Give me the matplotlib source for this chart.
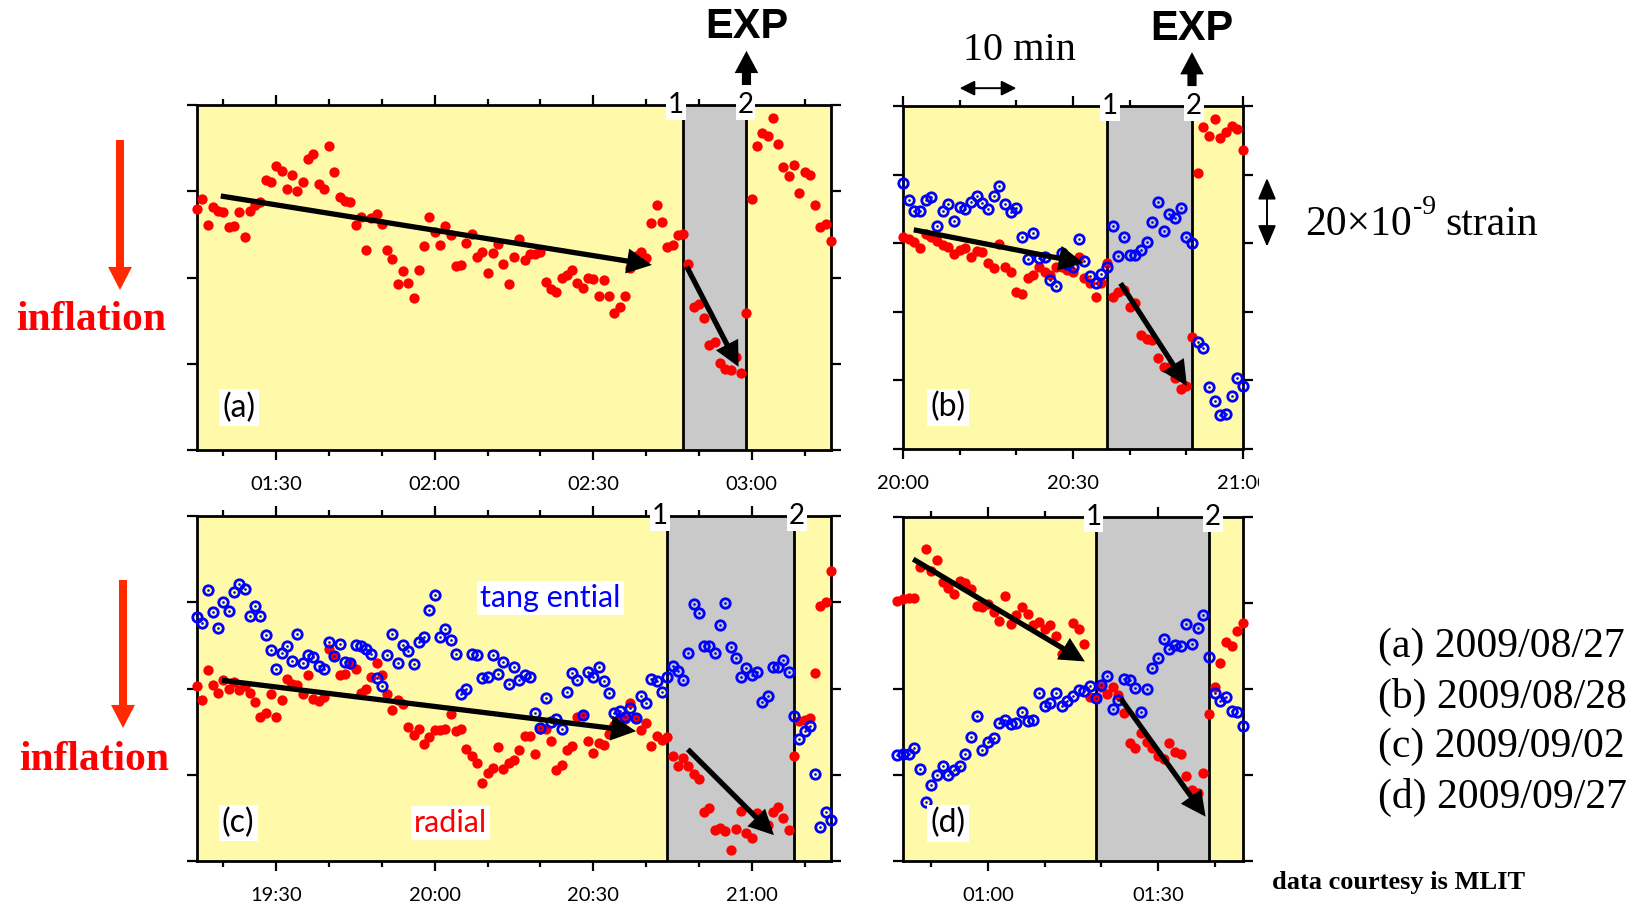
import numpy as np
import matplotlib
matplotlib.use("Agg")
import matplotlib.pyplot as plt
import matplotlib.transforms as mtransforms
from matplotlib.patches import FancyArrowPatch
from matplotlib.ticker import MultipleLocator, FuncFormatter

# ---------------------------------------------------------------------------
# Strain records (values in 1e-9 strain, one sample per minute)
# ---------------------------------------------------------------------------
SAMPLE_MINUTES = 1.0

# (a) 2009/08/27 -- radial component only
A_START = "01:15"
A_RADIAL = [55.9, 58.2, 52.2, 56.4, 55.5, 55.1, 51.6, 52.0, 55.1, 49.3,
            55.5, 56.8, 57.4, 62.6, 62.2, 65.9, 64.7, 60.5, 63.8, 60.1,
            62.2, 67.4, 68.6, 61.7, 60.5, 70.5, 64.4, 58.6, 57.8, 57.4,
            52.2, 54.1, 46.4, 53.9, 54.7, 52.3, 46.4, 44.3, 38.4, 41.5,
            38.8, 35.3, 41.7, 47.3, 54.0, 50.6, 47.5, 51.9, 49.9, 42.7,
            42.9, 47.9, 50.2, 44.7, 45.8, 41.1, 45.6, 47.8, 43.1, 38.4,
            44.7, 48.9, 44.1, 45.4, 45.5, 45.8, 39.0, 37.3, 36.7, 40.0,
            40.6, 41.7, 38.8, 37.6, 40.0, 39.6, 35.8, 39.4, 35.7, 31.7,
            33.1, 35.6, 42.3, 45.1, 46.0, 44.6, 52.6, 56.7, 52.9, 47.1,
            47.5, 49.8, 50.2, 43.1, 33.2, 33.9, 30.7, 24.3, 25.1, 20.1,
            18.7, 18.6, 21.6, 17.8, 31.7, 58.1, 70.6, 73.4, 72.8, 76.9,
            70.9, 65.7, 63.6, 66.2, 59.7, 64.5, 63.8, 56.7, 51.6, 52.4,
            48.5]
A_TANGENTIAL = []

# (b) 2009/08/28
B_START = "20:00"
B_RADIAL = [61.9, 61.2, 60.3, 58.5, 62.6, 61.7, 60.5, 59.5, 58.8, 56.8,
            58.1, 58.5, 56.1, 57.8, 57.4, 54.2, 52.7, 59.8, 53.2, 51.7,
            45.9, 45.2, 49.8, 50.8, 53.2, 51.7, 50.8, 53.2, 53.2, 52.2,
            51.7, 56.1, 50.0, 48.3, 44.2, 48.3, 54.2, 44.2, 45.9, 46.4,
            41.3, 42.5, 33.3, 32.1, 31.8, 26.5, 23.8, 23.8, 20.7, 17.5,
            18.4, 32.6, 80.6, 93.8, 91.3, 96.1, 90.6, 92.5, 94.2, 93.3,
            87.2]
B_TANGENTIAL = [77.5, 72.6, 69.5, 69.5, 72.6, 73.6, 64.9, 69.4, 71.4, 66.5,
                70.5, 69.9, 71.9, 73.9, 71.7, 70.0, 73.9, 76.8, 71.5, 69.2,
                70.4, 61.9, 55.4, 62.9, 55.8, 56.1, 49.3, 47.4, 57.1, 53.9,
                53.2, 61.3, 54.9, 50.3, 48.5, 51.1, 53.2, 64.9, 56.4, 61.7,
                56.6, 56.6, 57.9, 60.3, 66.3, 72.1, 63.6, 68.4, 67.3, 70.2,
                61.7, 60.2, 31.2, 29.4, 18.0, 14.1, 9.8, 10.2, 15.5, 20.7,
                18.3]

# (c) 2009/09/02
C_START = "19:15"
C_RADIAL = [40.5, 37.4, 44.4, 40.7, 39.0, 41.9, 39.8, 41.5, 39.6, 40.5,
            39.0, 36.9, 33.4, 34.4, 38.8, 33.5, 37.3, 42.3, 41.0, 40.7,
            38.8, 43.1, 37.6, 37.0, 38.0, 49.2, 47.5, 43.1, 43.3, 45.6,
            44.6, 39.0, 40.0, 42.7, 46.0, 43.1, 38.8, 35.1, 37.3, 36.3,
            31.1, 29.3, 30.5, 27.1, 28.8, 30.3, 30.3, 30.5, 34.0, 30.1,
            30.7, 25.9, 24.3, 22.7, 18.2, 20.3, 21.6, 26.4, 21.4, 22.8,
            23.5, 25.8, 28.9, 29.0, 24.9, 30.5, 30.5, 27.8, 21.0, 22.2,
            25.7, 26.6, 33.5, 33.8, 27.8, 25.1, 27.4, 27.0, 29.5, 31.5,
            33.5, 32.9, 36.6, 33.2, 30.3, 32.0, 26.7, 29.1, 28.1, 28.7,
            24.4, 22.0, 24.0, 22.0, 20.1, 18.9, 11.3, 12.2, 7.3, 7.6,
            7.0, 2.6, 7.4, 11.7, 6.4, 5.4, 11.1, 9.5, 8.3, 11.3,
            12.6, 9.9, 7.3, 24.4, 32.5, 32.7, 33.1, 43.7, 59.2, 60.0,
            67.3]
C_TANGENTIAL = [56.6, 55.2, 62.8, 57.7, 54.0, 60.1, 57.9, 62.4, 64.3, 63.0,
                56.8, 59.1, 56.7, 52.3, 48.9, 44.6, 48.2, 49.9, 46.4, 52.7,
                45.8, 47.7, 47.2, 45.2, 44.6, 50.8, 47.5, 50.4, 46.1, 45.8,
                50.2, 49.9, 49.1, 48.1, 42.4, 40.5, 47.7, 52.7, 46.0, 50.0,
                48.6, 45.6, 50.8, 51.9, 58.3, 61.6, 51.9, 53.7, 51.2, 48.1,
                38.8, 40.0, 47.9, 47.8, 42.5, 42.7, 47.7, 43.3, 46.1, 41.1,
                45.0, 41.9, 43.2, 42.7, 34.4, 30.8, 37.8, 32.2, 33.0, 30.5,
                39.2, 43.7, 41.9, 33.8, 43.8, 42.7, 45.1, 41.7, 39.0, 34.3,
                34.8, 33.4, 35.5, 33.2, 38.3, 36.7, 42.1, 41.8, 39.3, 42.7,
                45.3, 44.1, 42.0, 48.3, 59.6, 57.4, 49.9, 49.9, 48.3, 54.7,
                59.8, 49.7, 47.0, 42.6, 44.8, 43.1, 43.8, 36.9, 38.3, 44.9,
                44.9, 46.5, 43.9, 33.7, 28.4, 30.2, 31.4, 20.1, 7.8, 11.4,
                9.5]

# (d) 2009/09/27
D_START = "00:44"
D_RADIAL = [60.5, 60.9, 61.1, 61.1, 68.3, 72.5, 67.5, 69.9, 65.0, 63.6,
            62.1, 65.2, 64.6, 63.3, 59.2, 59.0, 59.7, 57.9, 55.8, 61.7,
            55.1, 57.1, 59.0, 57.5, 54.9, 55.5, 53.9, 54.9, 52.4, 48.1,
            48.7, 55.3, 53.9, 50.5, 38.1, 37.8, 40.5, 38.8, 40.4, 38.6,
            34.5, 27.5, 26.2, 29.7, 27.6, 26.2, 24.4, 23.8, 27.5, 25.4,
            24.9, 19.8, 16.6, 15.8, 20.5, 34.1, 40.4, 46.0, 51.0, 49.9,
            53.4, 55.3]
D_TANGENTIAL = [24.6, 24.8, 25.0, 26.2, 21.3, 13.7, 17.6, 20.0, 22.1, 20.1,
                21.1, 22.1, 25.0, 28.9, 33.7, 25.8, 27.6, 28.5, 32.2, 32.8,
                31.8, 32.0, 34.6, 32.5, 32.9, 39.1, 36.1, 36.7, 39.0, 36.0,
                37.3, 38.4, 39.8, 39.6, 40.8, 37.8, 40.9, 43.0, 35.3, 37.4,
                42.3, 42.1, 40.2, 34.7, 39.9, 45.0, 47.1, 51.6, 49.2, 50.3,
                49.9, 55.1, 50.5, 54.1, 57.1, 47.5, 39.0, 37.2, 38.2, 35.0,
                34.7, 31.4]

# Time windows shown, event times (1 and 2) and trend arrows (time, value)
A_XLIM, B_XLIM, C_XLIM, D_XLIM = ("01:15", "03:15"), ("20:00", "21:00"), ("19:15", "21:15"), ("00:45", "01:45")
A_EVENTS, B_EVENTS, C_EVENTS, D_EVENTS = ("02:47", "02:59"), ("20:36", "20:51"), ("20:44", "21:08"), ("01:19", "01:39")
A_TRENDS = [(("01:19.5", 58.9), ("02:41.1", 42.9)), (("02:47.7", 42.5), ("02:57.5", 19.3))]
B_TRENDS = [(("20:01.9", 63.9), ("20:31.9", 54.2)), (("20:38.4", 48.3), ("20:50.1", 18.4))]
C_TRENDS = [(("19:19.7", 41.9), ("20:38.1", 30.1)), (("20:47.9", 25.9), ("21:04.2", 6.0))]
D_TRENDS = [(("00:46.8", 70.2), ("01:17.1", 46.4)), (("01:23.4", 37.8), ("01:38.4", 10.3))]

DATES = ["(a) 2009/08/27", "(b) 2009/08/28", "(c) 2009/09/02", "(d) 2009/09/27"]

YELLOW = "#fffaaa"
GRAY = "#c9c9c9"
SANS = "Lato"
SERIF = "Liberation Serif"


def hm(s):
    h, m = s.split(":")
    return int(h) * 60 + float(m)


def hm_label(v, pos=None):
    v = int(round(v))
    return f"{(v // 60) % 24:02d}:{v % 60:02d}"


W, H = 1639, 907
fig = plt.figure(figsize=(W / 100, H / 100), dpi=100)


def px_rect(x0, y0, x1, y1):
    return [x0 / W, 1 - y1 / H, (x1 - x0) / W, (y1 - y0) / H]


def panel(rect, start, radial, tangential, xlim, ymax, events, trends,
          tag, tag_xy, num_shift, exp=False, hide_last_label=False):
    ax = fig.add_axes(rect)
    ax.set_facecolor(YELLOW)
    ax.set_xlim(hm(xlim[0]), hm(xlim[1]))
    ax.set_ylim(0, ymax)
    e1, e2 = hm(events[0]), hm(events[1])
    ax.axvspan(e1, e2, color=GRAY, lw=0, zorder=0.5)
    for e in (e1, e2):
        ax.axvline(e, color="black", lw=2.0, zorder=1)

    t = hm(start) + SAMPLE_MINUTES * np.arange(len(radial))
    ax.plot(t, radial, "o", ms=7.4, color="red", mec="none", zorder=3, clip_on=False)
    if tangential:
        tt = hm(start) + SAMPLE_MINUTES * np.arange(len(tangential))
        ax.plot(tt, tangential, "o", ms=6.8, mfc="none", mec="blue", mew=2.0,
                zorder=4, clip_on=False)
        ax.plot(tt, tangential, "o", ms=1.9, color="blue", mec="none",
                zorder=4.1, clip_on=False)

    for (sa, va), (sb, vb) in trends:
        ax.annotate("", xy=(hm(sb), vb), xytext=(hm(sa), va),
                    arrowprops=dict(arrowstyle="simple,head_length=0.9,head_width=0.9,tail_width=0.19",
                                    mutation_scale=20, color="black", lw=0,
                                    shrinkA=0, shrinkB=0), zorder=5)

    # axes styling
    ax.xaxis.set_major_locator(MultipleLocator(30))
    ax.xaxis.set_minor_locator(MultipleLocator(10))
    ax.yaxis.set_major_locator(MultipleLocator(20))
    if hide_last_label:
        last = hm(xlim[1])
        ax.xaxis.set_major_formatter(FuncFormatter(
            lambda v, p: "" if abs(v - last) < 0.5 else hm_label(v)))
    else:
        ax.xaxis.set_major_formatter(FuncFormatter(hm_label))
    ax.tick_params(which="both", direction="out", top=True, right=True,
                   labelleft=False, width=1.6, color="black")
    ax.tick_params(which="major", length=7.5, pad=11, labelsize=14.5)
    ax.tick_params(which="minor", length=4)
    for lab in ax.get_xticklabels():
        lab.set_fontfamily(SANS)
    for sp in ax.spines.values():
        sp.set_linewidth(2.0)
        sp.set_zorder(2.5)

    # event numbers on the top frame
    trans = mtransforms.blended_transform_factory(ax.transData, ax.transAxes)
    for e, lab, dx in zip((e1, e2), ("1", "2"), num_shift):
        ax.annotate(lab, xy=(e, 1.0), xycoords=trans, xytext=(dx, 0),
                    textcoords="offset pixels", ha="center", va="center",
                    fontsize=20, family=SANS, zorder=6, annotation_clip=False,
                    bbox=dict(boxstyle="square,pad=0.06", fc="white", ec="none"))

    ax.text(tag_xy[0], tag_xy[1], tag, transform=ax.transAxes, ha="center",
            va="center", fontsize=23, family=SANS, zorder=6,
            bbox=dict(boxstyle="square,pad=0.1", fc="white", ec="none"))

    if exp:
        ax.text(e2, 1.225, "EXP", transform=trans, ha="center", va="center",
                fontsize=30, fontweight="bold", family="Liberation Sans")
        ax.annotate("", xy=(e2, 1.157), xytext=(e2, 1.058), xycoords=trans,
                    arrowprops=dict(arrowstyle="simple,head_length=0.8,head_width=0.85,tail_width=0.33",
                                    mutation_scale=20, color="black", lw=0,
                                    shrinkA=0, shrinkB=0),
                    annotation_clip=False)
    return ax, trans


ax_a, tr_a = panel(px_rect(197, 105, 831, 450), A_START, A_RADIAL, A_TANGENTIAL,
                   A_XLIM, 80, A_EVENTS, A_TRENDS, "(a)", (0.066, 0.122), (-7, -1), exp=True)
ax_b, tr_b = panel(px_rect(903, 106, 1243, 449), B_START, B_RADIAL, B_TANGENTIAL,
                   B_XLIM, 100, B_EVENTS, B_TRENDS, "(b)", (0.132, 0.122), (3, 2), exp=True,
                   hide_last_label=True)
ax_c, tr_c = panel(px_rect(197, 516, 831, 861), C_START, C_RADIAL, C_TANGENTIAL,
                   C_XLIM, 80, C_EVENTS, C_TRENDS, "(c)", (0.065, 0.11), (-7, 3))
ax_d, tr_d = panel(px_rect(903, 517, 1243, 861), D_START, D_RADIAL, D_TANGENTIAL,
                   D_XLIM, 80, D_EVENTS, D_TRENDS, "(d)", (0.132, 0.11), (-2, 4))

# last tick label of (b) is cut off at the right of the frame
lab21 = ax_b.text(hm(B_XLIM[1]), -0.1, hm_label(hm(B_XLIM[1])), transform=tr_b,
                  ha="center", va="center", fontsize=14.5, family=SANS)
lab21.set_clip_box(mtransforms.TransformedBbox(
    mtransforms.Bbox([[0, 0], [1259 / W, 1]]), fig.transFigure))
lab21.set_clip_on(True)

# component names in (c)
ax_c.text(0.5576, 0.762, "tang ential", transform=ax_c.transAxes, ha="center",
          va="center", fontsize=22, color="blue", family=SANS, zorder=6,
          bbox=dict(boxstyle="square,pad=0.1", fc="white", ec="none"))
ax_c.text(0.400, 0.109, "radial", transform=ax_c.transAxes, ha="center",
          va="center", fontsize=22, color="red", family=SANS, zorder=6,
          bbox=dict(boxstyle="square,pad=0.1", fc="white", ec="none"))

# 10 min time scale above (b)
ax_b.text(hm("20:20.5"), 1.163, "10 min", transform=tr_b, ha="center",
          va="center", fontsize=29, family=SERIF)
ax_b.annotate("", xy=(hm("20:20"), 1.052), xytext=(hm("20:10"), 1.052),
              xycoords=tr_b, annotation_clip=False,
              arrowprops=dict(arrowstyle="<|-|>,head_length=0.9,head_width=0.45",
                              mutation_scale=10, color="black", lw=1.4,
                              shrinkA=0, shrinkB=0))

# strain scale bar beside (b)
ax_b.annotate("", xy=(1267 / W, 79), xytext=(1267 / W, 59),
              xycoords=("figure fraction", "data"), annotation_clip=False,
              arrowprops=dict(arrowstyle="<|-|>,head_length=1.3,head_width=0.55",
                              mutation_scale=10, color="black", lw=1.4,
                              shrinkA=0, shrinkB=0))
s_base = ax_b.annotate("20×10", xy=(1305 / W, 65.5),
                       xycoords=("figure fraction", "data"), ha="left", va="center",
                       fontsize=30, family=SERIF, annotation_clip=False)
s_exp = ax_b.annotate("-9", xy=(1.0, 0.62), xycoords=s_base, xytext=(1, 0),
                      textcoords="offset pixels", ha="left", va="bottom",
                      fontsize=20, family=SERIF, annotation_clip=False)
ax_b.annotate("strain", xy=(1.0, 0.0), xycoords=(s_exp, s_base), xytext=(9, 0),
              textcoords="offset pixels", ha="left", va="bottom",
              fontsize=30, family=SERIF, annotation_clip=False)

# inflation direction markers
for (xa, ya0, ya1), (xt, yt) in [((120, 140, 290), (91.5, 320)),
                                 ((123, 580, 728), (94.5, 760))]:
    fig.add_artist(FancyArrowPatch((xa / W, 1 - ya0 / H), (xa / W, 1 - ya1 / H),
                                   transform=fig.transFigure,
                                   arrowstyle="simple,head_length=0.83,head_width=0.86,tail_width=0.29",
                                   mutation_scale=20, color="#ff2a00", lw=0,
                                   shrinkA=0, shrinkB=0))
    fig.text(xt / W, 1 - yt / H, "inflation", ha="center", va="center",
             fontsize=30, fontweight="bold", color="red", family=SERIF)

# date list and credit
for i, d in enumerate(DATES):
    fig.text(1378 / W, 1 - (647 + 50 * i) / H, d, ha="left", va="center",
             fontsize=30, family=SERIF)
fig.text(1272 / W, 1 - 883 / H, "data courtesy is MLIT", ha="left", va="center",
         fontsize=19, fontweight="bold", family=SERIF)

fig.savefig("out.png", dpi=100, facecolor="white")
